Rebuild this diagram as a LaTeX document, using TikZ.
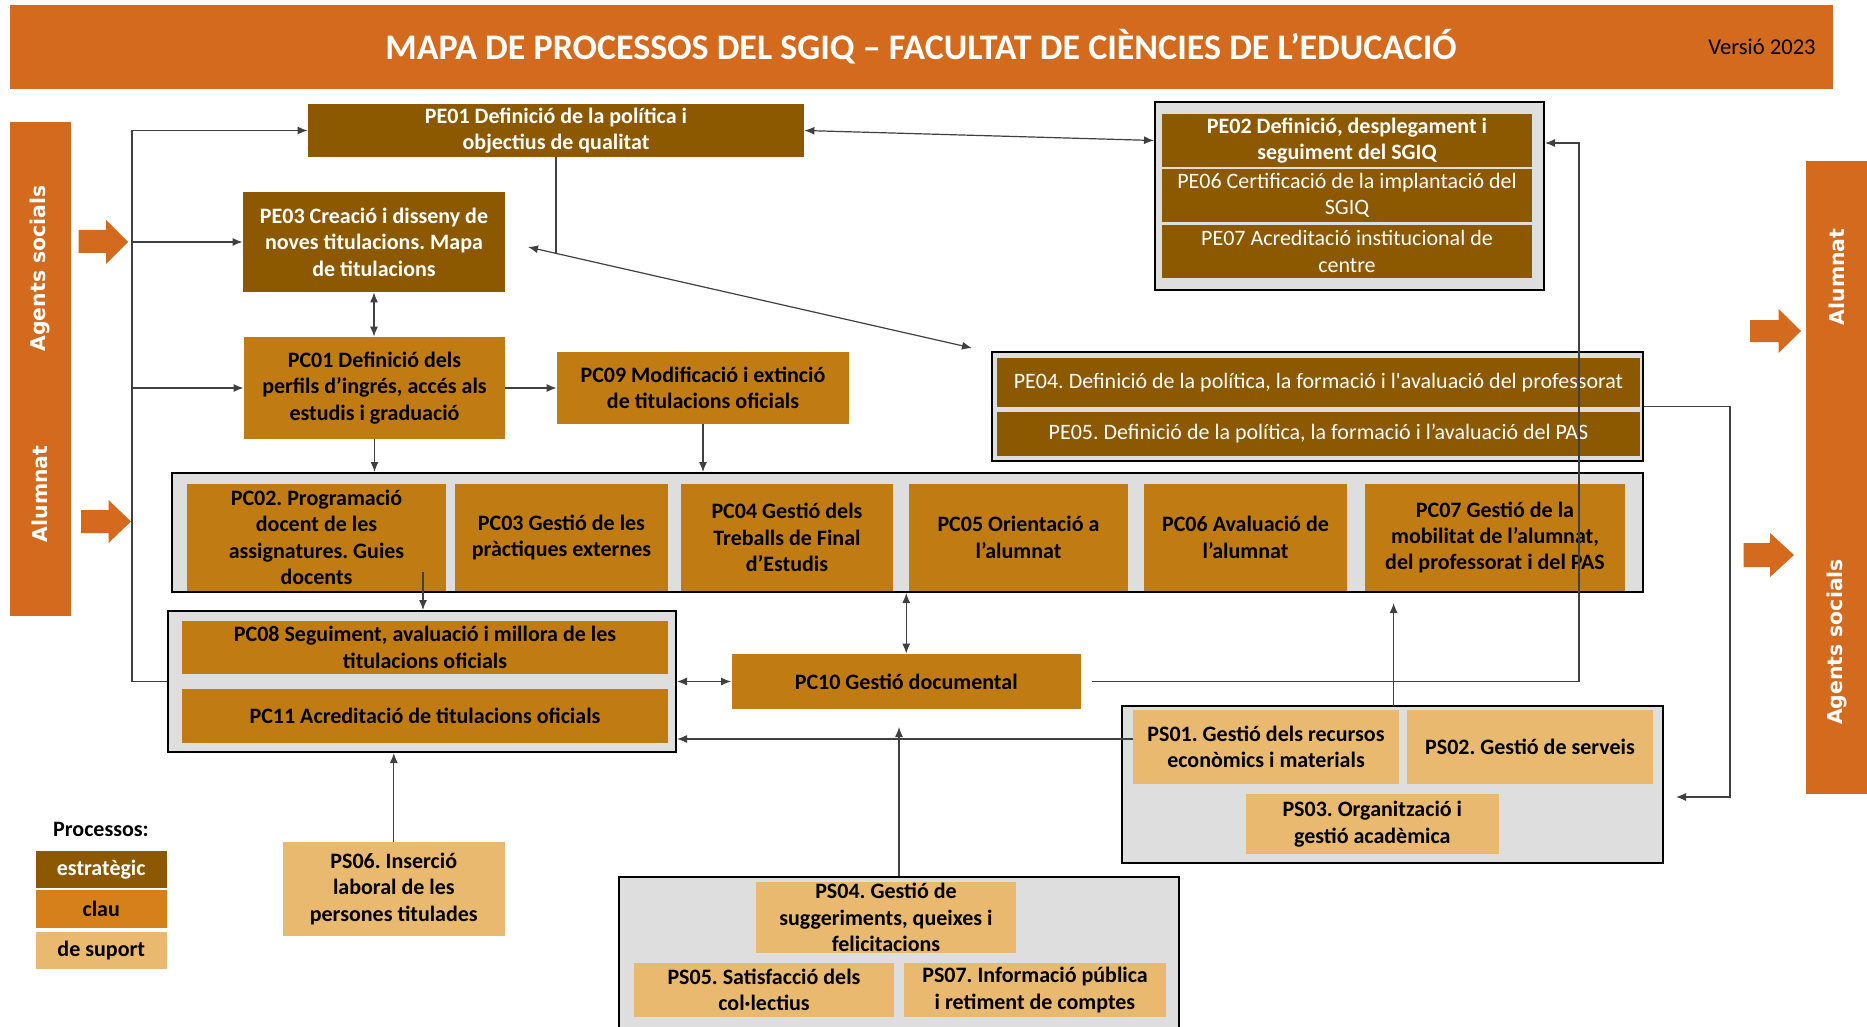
\documentclass[tikz,border=0pt]{standalone}
\usepackage{fontspec}
\setmainfont{Carlito}
\newfontfamily\plainf{Carlito}[Ligatures=TeXOff]
\newfontfamily\sidefont{DejaVu Sans}
\usetikzlibrary{arrows.meta,calc}
\frenchspacing
\definecolor{cOr}{RGB}{212,106,30}
\definecolor{cPE}{RGB}{140,88,0}
\definecolor{cPC}{RGB}{192,124,19}
\definecolor{cCl}{RGB}{213,128,26}
\definecolor{cPS}{RGB}{232,185,110}
\newcommand\boxfont{\fontsize{11}{13.2}\selectfont}
\newcommand\pbox[7]{%
  \pgfmathsetmacro\pbw{(#5-#3)*0.5}%
  \pgfmathsetmacro\pbh{(#6-#4)*0.5}%
  \node[#2, minimum width=\pbw pt, minimum height=\pbh pt] (#1) at ({(#3+#5)/2},{(#4+#6)/2}) {#7};}
\begin{document}
\begin{tikzpicture}[x=0.5pt,y=-0.5pt,
  pe/.style={fill=cPE, text=white, font=\boxfont\bfseries, align=center, inner sep=0pt},
  pen/.style={pe, font=\boxfont},
  pc/.style={fill=cPC, text=black, font=\boxfont\bfseries, align=center, inner sep=0pt},
  ps/.style={fill=cPS, text=black, font=\boxfont\bfseries, align=center, inner sep=0pt},
  grp/.style={draw=black, line width=1pt, fill=black!13, inner sep=0pt},
  bar/.style={fill=cOr, inner sep=0pt},
  sidetxt/.style={text=white, font=\sidefont\bfseries\fontsize{10.2}{12}\selectfont, inner sep=0pt, rotate=90},
  conn/.style={draw=black!75, line width=0.6pt},
  arr/.style={-{Latex[length=5pt,width=4pt]}},
  barr/.style={{Latex[length=5pt,width=4pt]}-{Latex[length=5pt,width=4pt]}},
]
\useasboundingbox (0,0) rectangle (1867,1027);
\fill[white] (0,0) rectangle (1867,1027);

% title bar
\pbox{tbar}{bar}{9.5}{5}{1833}{89}{}
\node[text=white, font=\bfseries\fontsize{18}{21}\selectfont, inner sep=0pt] (title) at (921,47) {MAPA DE PROCESSOS DEL SGIQ – FACULTAT DE CIÈNCIES DE L’EDUCACIÓ};
\node[text=black, font=\fontsize{11.3}{13}\selectfont, inner sep=0pt] (ver) at (1762,46.5) {Versió 2023};

% side bars
\pbox{lbar}{bar}{9.6}{122}{70.8}{616}{}
\pbox{rbar}{bar}{1806}{161}{1867}{794}{}
\node[sidetxt] (lAS) at (40,268.5) {Agents socials};
\node[sidetxt] (lAL) at (40,494) {Alumnat};
\node[sidetxt] (rAL) at (1836.5,277) {Alumnat};
\node[sidetxt] (rAS) at (1836.5,642) {Agents socials};

% block arrows
\fill[cOr] (78.5,230) -- (106,230) -- (106,220) -- (128,242) -- (106,264) -- (106,253) -- (78.5,253) -- cycle;
\fill[cOr] (81,510) -- (108.5,510) -- (108.5,500) -- (131,521.5) -- (108.5,543) -- (108.5,533) -- (81,533) -- cycle;
\fill[cOr] (1750,320) -- (1778.6,320) -- (1778.6,309) -- (1801,331) -- (1778.6,353) -- (1778.6,342) -- (1750,342) -- cycle;
\fill[cOr] (1743.5,543) -- (1770,543) -- (1770,533) -- (1794,555) -- (1770,577) -- (1770,567) -- (1743.5,567) -- cycle;

% strategic
\pbox{pe01}{pe}{308}{104}{804}{157}{PE01 Definició de la política i\\objectius de qualitat}
\pbox{pe03}{pe}{243}{192}{505}{292}{PE03 Creació i disseny de\\noves titulacions. Mapa\\de titulacions}
\pbox{gpe02}{grp}{1155}{102}{1544}{290}{}
\pbox{pe02}{pe}{1162}{114}{1532}{167}{PE02 Definició, desplegament i\\seguiment del SGIQ}
\pbox{pe06}{pen}{1162}{169}{1532}{222}{PE06 Certificació de la implantació del\\SGIQ}
\pbox{pe07}{pen}{1162}{225}{1532}{278}{PE07 Acreditació institucional de\\centre}
\pbox{gpe04}{grp}{992}{352}{1643}{461}{}
\pbox{pe04}{pen}{997}{358}{1640}{407}{PE04. Definició de la política, la formació i l{\plainf'}avaluació del professorat}
\pbox{pe05}{pen}{997}{412}{1640}{456}{PE05. Definició de la política, la formació i l’avaluació del PAS}

% key
\pbox{pc01}{pc}{244}{337}{505}{439}{PC01 Definició dels\\perfils d’ingrés, accés als\\estudis i graduació}
\pbox{pc09}{pc}{557}{352}{849}{424}{PC09 Modificació i extinció\\de titulacions oficials}
\pbox{gpc}{grp}{172}{473}{1643}{592}{}
\pbox{pc02}{pc}{187}{484}{446}{591}{PC02. Programació\\docent de les\\assignatures. Guies\\docents}
\pbox{pc03}{pc}{455}{484}{668}{591}{PC03 Gestió de les\\pràctiques externes}
\pbox{pc04}{pc}{681}{484}{893}{591}{PC04 Gestió dels\\Treballs de Final\\d’Estudis}
\pbox{pc05}{pc}{909}{484}{1128}{591}{PC05 Orientació a\\l’alumnat}
\pbox{pc06}{pc}{1144}{484}{1347}{591}{PC06 Avaluació de\\l’alumnat}
\pbox{pc07}{pc}{1365}{484}{1625}{591}{PC07 Gestió de la\\mobilitat de l’alumnat,\\del professorat i del PAS}
\pbox{gpc08}{grp}{168}{611}{676}{752}{}
\pbox{pc08}{pc}{182}{621}{668}{674}{PC08 Seguiment, avaluació i millora de les\\titulacions oficials}
\pbox{pc11}{pc}{182}{689}{668}{743}{PC11 Acreditació de titulacions oficials}
\pbox{pc10}{pc}{731.5}{654}{1081}{709}{PC10 Gestió documental}

% support
\pbox{gps1}{grp}{1121.6}{706}{1663}{863}{}
\pbox{ps01}{ps}{1133}{710}{1399}{784}{PS01. Gestió dels recursos\\econòmics i materials}
\pbox{ps02}{ps}{1407}{710}{1653}{784}{PS02. Gestió de serveis}
\pbox{ps03}{ps}{1246}{794}{1498.6}{854}{PS03. Organització i\\gestió acadèmica}
\pbox{gps4}{grp}{619}{877}{1179}{1031}{}
\pbox{ps04}{ps}{756}{882}{1016}{953}{PS04. Gestió de\\suggeriments, queixes i\\felicitacions}
\pbox{ps05}{ps}{634}{963}{894}{1017}{PS05. Satisfacció dels\\col·lectius}
\pbox{ps07}{ps}{904}{963}{1166}{1017}{PS07. Informació pública\\i retiment de comptes}
\pbox{ps06}{ps}{282.6}{842}{505}{936}{PS06. Inserció\\laboral de les\\persones titulades}

% legend
\node[font=\boxfont\bfseries, inner sep=0pt] (leg) at (101,829) {Processos:};
\pbox{lest}{pe}{36}{851}{166.5}{888}{estratègic}
\pbox{lclau}{pc,fill=cCl}{36}{890}{166.5}{928}{clau}
\pbox{lsup}{ps}{36}{932}{166.5}{969}{de suport}

% connectors
\coordinate (trunk) at (132,130.5);
\draw[conn,arr] (gpc08.west) -| (trunk) -- (pe01.west);
\draw[conn,arr] (trunk |- pe03.west) -- (pe03.west);
\draw[conn,arr] (trunk |- pc01.west) -- (pc01.west);
\draw[conn,barr] (pe03.south) -- (pe03.south |- pc01.north);
\draw[conn,arr] (pc01.east) -- (pc09.west);
\draw[conn,arr] (pc01.south) -- (pc01.south |- gpc.north);
\draw[conn,arr] (pc09.south) -- (pc09.south |- gpc.north);
\coordinate (dA) at (528,247);
\coordinate (dB) at (972,348);
\coordinate (dJ) at (556,253.4);
\draw[conn,barr] (dA) -- (dB);
\draw[conn] (pe01.south) -- (dJ);
\draw[conn,barr] (pe01.east) -- (gpe02.west |- pe02.west);
\coordinate (r2) at (1579,143);
\draw[conn,arr] ([xshift=5.5pt]pc10.east) -| (r2) -- (gpe02.east |- r2);
\coordinate (r3) at (1730,797);
\draw[conn,arr] (gpe04.east) -| (r3) -- ([xshift=6pt]gps1.east |- r3);
\draw[conn,barr] (pc10.north) -- (pc10.north |- gpc.south);
\coordinate (p2o) at (423,572);
\draw[conn,arr] (p2o) -- (p2o |- gpc08.north);
\draw[conn,barr] (gpc08.east) -- (pc10.west);
\coordinate (l739) at (1133,739);
\draw[conn,arr] (l739) -- (gpc08.east |- l739);
\coordinate (u1) at (1393.6,706);
\coordinate (u2) at (1393.6,603);
\draw[conn,arr] (u1) -- (u2);
\coordinate (v2) at (899,727);
\draw[conn,arr] (gps4.north) -- (v2);
\draw[conn,arr] (ps06.north) -- (ps06.north |- gpc08.south);
\end{tikzpicture}
\end{document}
